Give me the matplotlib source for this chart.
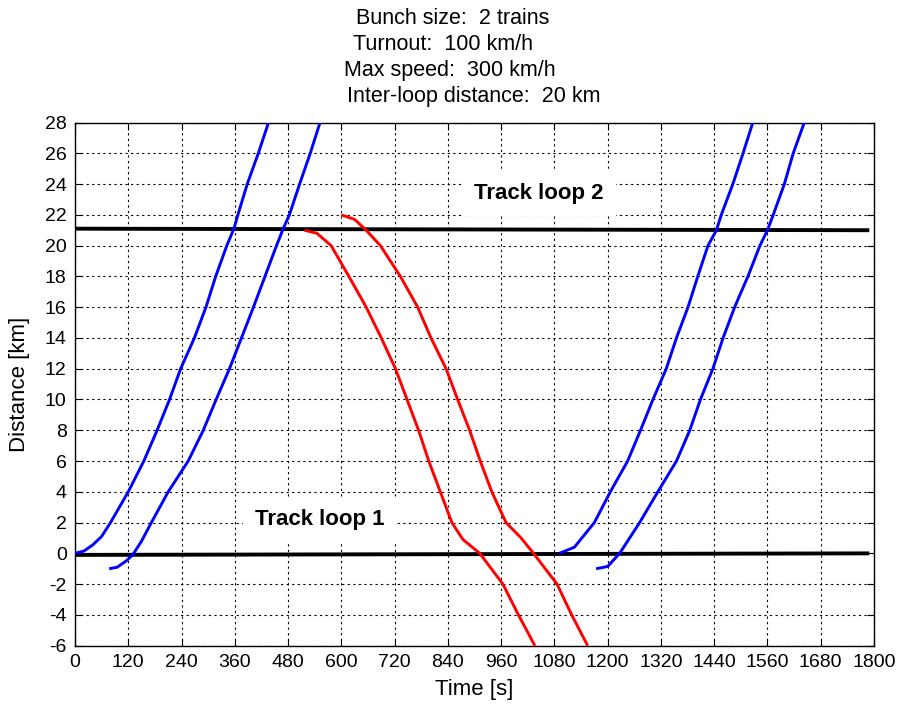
import matplotlib
matplotlib.use("Agg")
import matplotlib.pyplot as plt

plt.rcParams['font.family'] = ['Liberation Sans', 'DejaVu Sans']
plt.rcParams['axes.unicode_minus'] = False

# ---- data (time [s], distance [km]) ----
blue1_t = [0, 20, 40, 60, 80, 120, 155, 185, 213, 238, 269, 295, 317, 342, 358, 367, 388, 413, 436]
blue1_d = [0.0, 0.15, 0.55, 1.1, 2.0, 4.0, 6.0, 8.0, 10.0, 12.0, 14.0, 16.0, 18.0, 20.0, 21.1, 22.0, 24.0, 26.0, 28.0]

blue2_t = [77, 95, 115, 130, 150, 172, 210, 255, 289, 318, 348, 375, 402, 428, 454, 469, 483, 506, 530, 552]
blue2_d = [-1.0, -0.9, -0.5, -0.1, 0.8, 2.0, 4.0, 6.0, 8.0, 10.0, 12.0, 14.0, 16.0, 18.0, 20.0, 21.1, 22.0, 24.0, 26.0, 28.0]

red1_t = [517, 545, 577, 597, 617, 656, 690, 722, 748, 774, 797, 823, 849, 874, 912, 964, 999, 1036]
red1_d = [21.0, 20.8, 20.0, 19.0, 18.0, 16.0, 14.0, 12.0, 10.0, 8.0, 6.0, 4.0, 2.0, 0.9, 0.0, -2.0, -4.0, -6.0]

red2_t = [600, 630, 656, 688, 733, 772, 802, 836, 862, 889, 913, 939, 971, 1005, 1033, 1086, 1119, 1155]
red2_d = [22.0, 21.7, 21.0, 20.0, 18.0, 16.0, 14.0, 12.0, 10.0, 8.0, 6.0, 4.0, 2.0, 1.0, 0.0, -2.0, -4.0, -6.0]

blue3_t = [1091, 1125, 1170, 1206, 1245, 1274, 1302, 1332, 1355, 1381, 1403, 1426, 1445, 1456, 1482, 1505, 1527]
blue3_d = [0.0, 0.4, 2.0, 4.0, 6.0, 8.0, 10.0, 12.0, 14.0, 16.0, 18.0, 20.0, 21.0, 22.0, 24.0, 26.0, 28.0]

blue4_t = [1174, 1200, 1227, 1272, 1313, 1355, 1385, 1409, 1437, 1460, 1486, 1516, 1543, 1560, 1573, 1598, 1618, 1643]
blue4_d = [-1.0, -0.85, 0.0, 2.0, 4.0, 6.0, 8.0, 10.0, 12.0, 14.0, 16.0, 18.0, 20.0, 21.0, 22.0, 24.0, 26.0, 28.0]

loop2_t = [0, 1785]
loop2_d = [21.1, 21.0]
loop1_t = [0, 1785]
loop1_d = [-0.1, 0.0]

x_ticks = list(range(0, 1801, 120))
y_ticks = list(range(-6, 29, 2))

title_lines = ["Bunch size:  2 trains", "Turnout:  100 km/h",
               "Max speed:  300 km/h", "Inter-loop distance:  20 km"]

# ---- figure ----
fig = plt.figure(figsize=(9.0, 7.11), dpi=100)
ax = fig.add_axes([75/900, 1-645.7/711, (874-75)/900, (645.7-122.5)/711])

ax.plot(loop2_t, loop2_d, color='black', lw=2.8, zorder=3)
ax.plot(loop1_t, loop1_d, color='black', lw=2.8, zorder=3)
for t, d in [(blue1_t, blue1_d), (blue2_t, blue2_d), (blue3_t, blue3_d), (blue4_t, blue4_d)]:
    ax.plot(t, d, color='#0000ff', lw=2.1, zorder=4, solid_capstyle='butt')
for t, d in [(red1_t, red1_d), (red2_t, red2_d)]:
    ax.plot(t, d, color='#ff0000', lw=2.1, zorder=4, solid_capstyle='butt')

ax.set_xlim(0, 1800)
ax.set_ylim(-6, 28)
ax.set_xticks(x_ticks)
ax.set_yticks(y_ticks)
ax.tick_params(direction='in', length=5, width=0.8, top=True, right=True,
               labelsize=14, pad=6, colors='black')
ax.grid(True, linestyle=(0, (2, 3)), color='black', linewidth=0.8)
ax.set_axisbelow(True)
for s in ax.spines.values():
    s.set_linewidth(1.0)

ax.set_xlabel("Time [s]", fontsize=16, labelpad=6)
ax.set_ylabel("Distance [km]", fontsize=16, labelpad=11)

bbox = dict(boxstyle='square,pad=0.55', facecolor='white', edgecolor='none')
ax.text(552, 2.2, "Track loop 1", fontsize=16, fontweight='bold',
        ha='center', va='center', bbox=bbox, zorder=2)
ax.text(1045, 23.4, "Track loop 2", fontsize=16, fontweight='bold',
        ha='center', va='center', bbox=bbox, zorder=2)

centers = [453, 443, 450, 474]
baselines = [24, 50, 76, 101.7]
for s, cx, by in zip(title_lines, centers, baselines):
    fig.text(cx/900, 1-by/711, s, fontsize=15.5, ha='center', va='baseline')

fig.savefig("out.png", dpi=100)
